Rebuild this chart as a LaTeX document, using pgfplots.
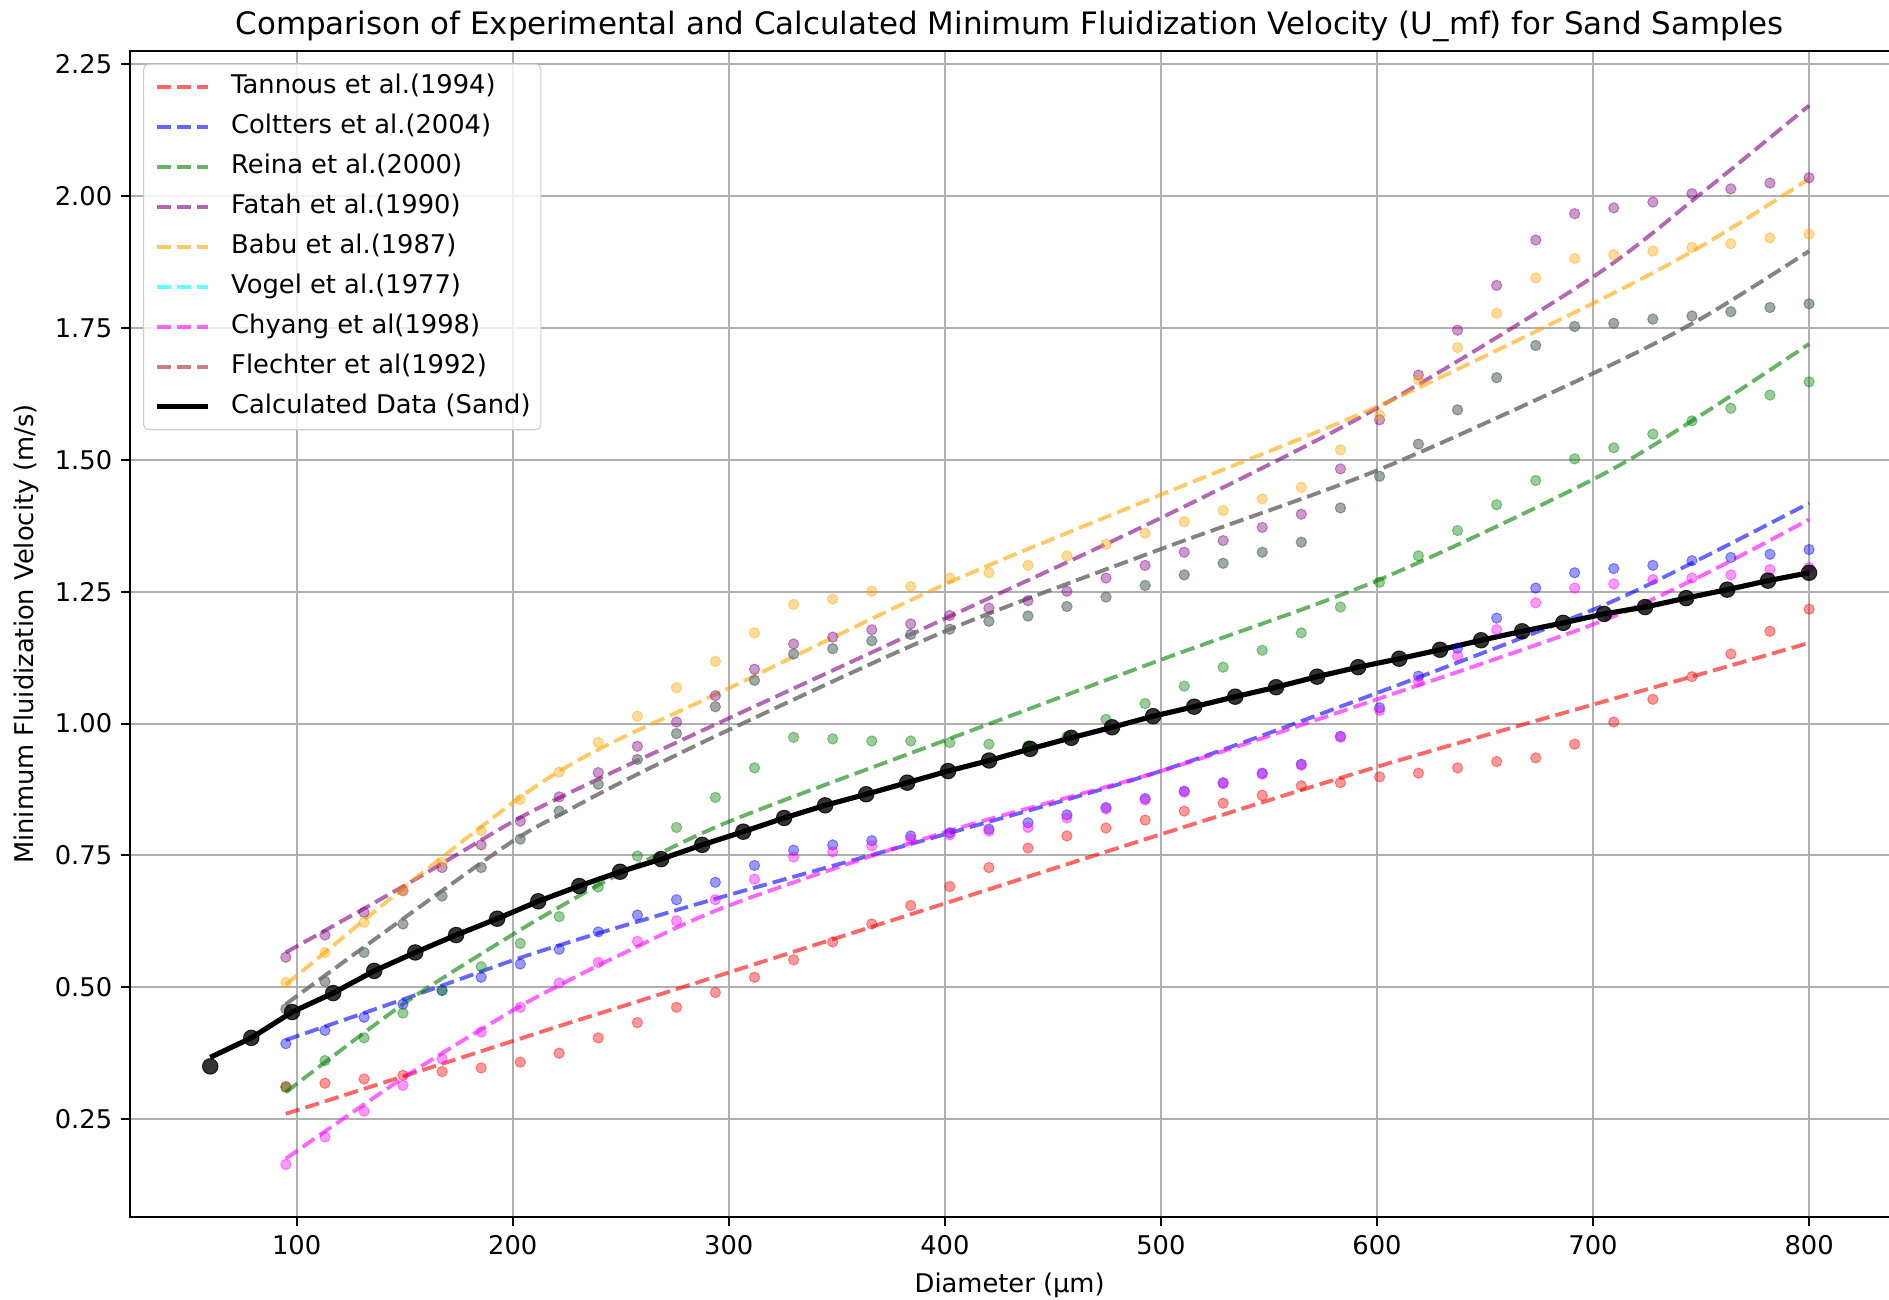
\documentclass[border=0pt]{standalone}
\usepackage{fontspec}
\setmainfont{DejaVu Sans}
\usepackage{pgfplots}
\pgfplotsset{compat=1.18}
\usepackage{pgfplotstable}

\definecolor{gridgray}{RGB}{176,176,176}
\definecolor{legendgray}{RGB}{204,204,204}
\definecolor{mred}{RGB}{255,0,0}
\definecolor{mblue}{RGB}{0,0,255}
\definecolor{mgreen}{RGB}{0,128,0}
\definecolor{mpurple}{RGB}{128,0,128}
\definecolor{morange}{RGB}{255,165,0}
\definecolor{mcyan}{RGB}{0,255,255}
\definecolor{mmagenta}{RGB}{255,0,255}
\definecolor{mbrown}{RGB}{165,42,42}

% experimental points (Vogel and Flechter coincide)
\pgfplotstableread{
x     tannous coltters reina fatah babu  vogel chyang
95.0  0.312 0.393 0.310 0.557 0.509 0.459 0.164
113.1 0.318 0.418 0.361 0.599 0.566 0.511 0.216
131.2 0.326 0.443 0.404 0.642 0.623 0.566 0.265
149.2 0.333 0.468 0.451 0.683 0.683 0.620 0.314
167.3 0.340 0.494 0.494 0.727 0.737 0.673 0.364
185.4 0.347 0.519 0.539 0.770 0.797 0.727 0.415
203.5 0.358 0.544 0.583 0.815 0.856 0.781 0.462
221.5 0.375 0.572 0.634 0.861 0.908 0.834 0.508
239.6 0.404 0.605 0.690 0.907 0.964 0.885 0.547
257.7 0.433 0.637 0.749 0.957 1.014 0.932 0.587
275.8 0.462 0.666 0.803 1.003 1.068 0.981 0.626
293.8 0.490 0.699 0.860 1.053 1.118 1.032 0.666
311.9 0.519 0.731 0.916 1.103 1.172 1.082 0.705
330.0 0.552 0.760 0.974 1.151 1.226 1.132 0.747
348.1 0.586 0.770 0.971 1.164 1.236 1.142 0.757
366.2 0.620 0.778 0.967 1.178 1.251 1.157 0.768
384.2 0.655 0.787 0.967 1.189 1.260 1.169 0.781
402.3 0.691 0.793 0.964 1.205 1.276 1.179 0.789
420.4 0.727 0.800 0.961 1.219 1.286 1.194 0.796
438.5 0.764 0.812 0.958 1.233 1.300 1.204 0.803
456.5 0.787 0.827 0.975 1.251 1.318 1.222 0.821
474.6 0.802 0.841 1.008 1.276 1.340 1.240 0.838
492.7 0.817 0.858 1.038 1.300 1.361 1.262 0.855
510.8 0.834 0.872 1.071 1.325 1.383 1.282 0.870
528.8 0.849 0.888 1.107 1.347 1.404 1.304 0.886
546.9 0.864 0.906 1.139 1.372 1.426 1.325 0.904
565.0 0.882 0.923 1.172 1.397 1.448 1.344 0.921
583.1 0.888 0.976 1.221 1.483 1.519 1.409 0.974
601.2 0.899 1.030 1.268 1.576 1.585 1.469 1.025
619.2 0.906 1.090 1.318 1.661 1.652 1.530 1.080
637.3 0.916 1.143 1.366 1.746 1.713 1.595 1.128
655.4 0.928 1.200 1.415 1.831 1.778 1.656 1.178
673.5 0.935 1.257 1.461 1.917 1.845 1.717 1.229
691.5 0.961 1.286 1.502 1.967 1.882 1.753 1.257
709.6 1.003 1.294 1.523 1.978 1.889 1.759 1.265
727.7 1.046 1.300 1.549 1.989 1.896 1.767 1.273
745.8 1.089 1.309 1.574 2.005 1.903 1.773 1.276
763.8 1.132 1.315 1.598 2.014 1.910 1.781 1.282
781.9 1.175 1.321 1.623 2.025 1.921 1.789 1.292
800.0 1.217 1.330 1.648 2.035 1.928 1.796 1.296
}\expdata

% correlation curves
\pgfplotstableread{
x   tannous coltters reina fatah babu  vogel chyang
95  0.260 0.400 0.301 0.566 0.505 0.468 0.175
150 0.332 0.478 0.470 0.693 0.690 0.632 0.330
200 0.398 0.551 0.600 0.814 0.850 0.777 0.456
225 0.431 0.584 0.660 0.866 0.918 0.834 0.511
250 0.463 0.615 0.716 0.915 0.972 0.888 0.562
300 0.528 0.675 0.814 1.010 1.067 0.988 0.655
400 0.659 0.790 0.968 1.199 1.264 1.175 0.794
500 0.790 0.910 1.121 1.390 1.434 1.331 0.910
600 0.918 1.058 1.271 1.598 1.601 1.480 1.046
700 1.036 1.216 1.463 1.847 1.797 1.664 1.188
750 1.094 1.313 1.585 2.005 1.905 1.768 1.280
800 1.153 1.418 1.720 2.172 2.033 1.896 1.387
}\fitdata

% calculated data (sand)
\pgfplotstableread{
x     y     line
60.0  0.350 0.367
79.0  0.404 0.404
97.9  0.453 0.453
116.9 0.489 0.489
135.9 0.531 0.531
154.9 0.566 0.566
173.8 0.599 0.599
192.8 0.630 0.630
211.8 0.663 0.663
230.8 0.692 0.692
249.7 0.719 0.719
268.7 0.743 0.743
287.7 0.770 0.770
306.7 0.795 0.795
325.6 0.821 0.821
344.6 0.845 0.845
363.6 0.866 0.866
382.6 0.888 0.888
401.5 0.910 0.910
420.5 0.930 0.930
439.5 0.952 0.952
458.5 0.973 0.973
477.4 0.993 0.993
496.4 1.014 1.014
515.4 1.032 1.032
534.4 1.051 1.051
553.3 1.069 1.069
572.3 1.089 1.089
591.3 1.107 1.107
610.3 1.123 1.123
629.2 1.140 1.140
648.2 1.158 1.158
667.2 1.175 1.175
686.2 1.191 1.191
705.1 1.208 1.208
724.1 1.221 1.221
743.1 1.238 1.238
762.1 1.254 1.254
781.0 1.271 1.271
800.0 1.286 1.286
}\calcdata

\begin{document}
\begin{tikzpicture}
\begin{axis}[
    name=ax,
    scale only axis,
    width=683pt, height=453pt,
    xmin=23, xmax=837, ymin=0.064, ymax=2.276,
    xtick={100,200,300,400,500,600,700,800},
    ytick={0.25,0.5,0.75,1,1.25,1.5,1.75,2,2.25},
    grid=major,
    major grid style={draw=gridgray, line width=0.8pt},
    axis line style={draw=none},
    tick align=outside, tick pos=left,
    major tick length=3.5pt,
    every tick/.style={black, line width=0.8pt},
    /pgf/number format/assume math mode=true,
    yticklabel style={/pgf/number format/.cd, fixed, fixed zerofill, precision=2},
    title={Comparison of Experimental and Calculated Minimum Fluidization Velocity (U\_mf) for Sand Samples},
    every axis title/.style={at={(0.5,1)}, anchor=center, yshift=9.6pt,
        inner sep=0pt, font=\fontsize{12}{14}\selectfont},
    xlabel={Diameter (µm)},
    ylabel={Minimum Fluidization Velocity (m/s)},
    every axis y label/.style={at={(axis description cs:-0.0589,0.5)},
        rotate=90, anchor=center},
    legend cell align=left,
    legend style={at={(0,1)}, anchor=north west, xshift=5pt, yshift=-5pt,
        draw=legendgray, fill=white, fill opacity=0.8, text opacity=1,
        rounded corners=2pt, inner xsep=4pt, inner ysep=4pt,
        row sep=5.5pt, column sep=8pt,
        nodes={inner sep=0pt, text height=7.5pt, text depth=2.5pt}},
    legend image code/.code={\draw[#1] (0pt,0pt) -- (20pt,0pt);},
    dots/.style={only marks, mark=*, mark size=2pt, opacity=0.4, forget plot},
    fit/.style={no marks, smooth, line width=1.5pt, opacity=0.6,
        dash pattern=on 5.55pt off 2.4pt},
]
% experimental points
\addplot[dots, mred]      table[x=x, y=tannous]  {\expdata};
\addplot[dots, mblue]     table[x=x, y=coltters] {\expdata};
\addplot[dots, mgreen]    table[x=x, y=reina]    {\expdata};
\addplot[dots, mpurple]   table[x=x, y=fatah]    {\expdata};
\addplot[dots, morange]   table[x=x, y=babu]     {\expdata};
\addplot[dots, mcyan]     table[x=x, y=vogel]    {\expdata};
\addplot[dots, mmagenta]  table[x=x, y=chyang]   {\expdata};
\addplot[dots, mbrown]    table[x=x, y=vogel]    {\expdata};

% correlations
\addplot[fit, mred]      table[x=x, y=tannous]  {\fitdata};
\addplot[fit, mblue]     table[x=x, y=coltters] {\fitdata};
\addplot[fit, mgreen]    table[x=x, y=reina]    {\fitdata};
\addplot[fit, mpurple]   table[x=x, y=fatah]    {\fitdata};
\addplot[fit, morange]   table[x=x, y=babu]     {\fitdata};
\addplot[fit, mcyan]     table[x=x, y=vogel]    {\fitdata};
\addplot[fit, mmagenta]  table[x=x, y=chyang]   {\fitdata};
\addplot[fit, mbrown]    table[x=x, y=vogel]    {\fitdata};

% calculated
\addplot[black, line width=2pt, no marks] table[x=x, y=line] {\calcdata};
\addplot[only marks, mark=*, mark size=3pt, black, opacity=0.8, forget plot]
    table[x=x, y=y] {\calcdata};

\legend{Tannous et al.(1994), Coltters et al.(2004), Reina et al.(2000),
    Fatah et al.(1990), Babu et al.(1987), Vogel et al.(1977),
    Chyang et al(1998), Flechter et al(1992), Calculated Data (Sand)}
\end{axis}
\draw[black, line width=0.8pt] (ax.south east) -- (ax.south west)
    -- (ax.north west) -- (ax.north east);
\pgfresetboundingbox
\path[use as bounding box] ([shift={(-50.6pt,-31.8pt)}]ax.south west)
    rectangle ([yshift=19.7pt]ax.north east);
\end{tikzpicture}
\end{document}
